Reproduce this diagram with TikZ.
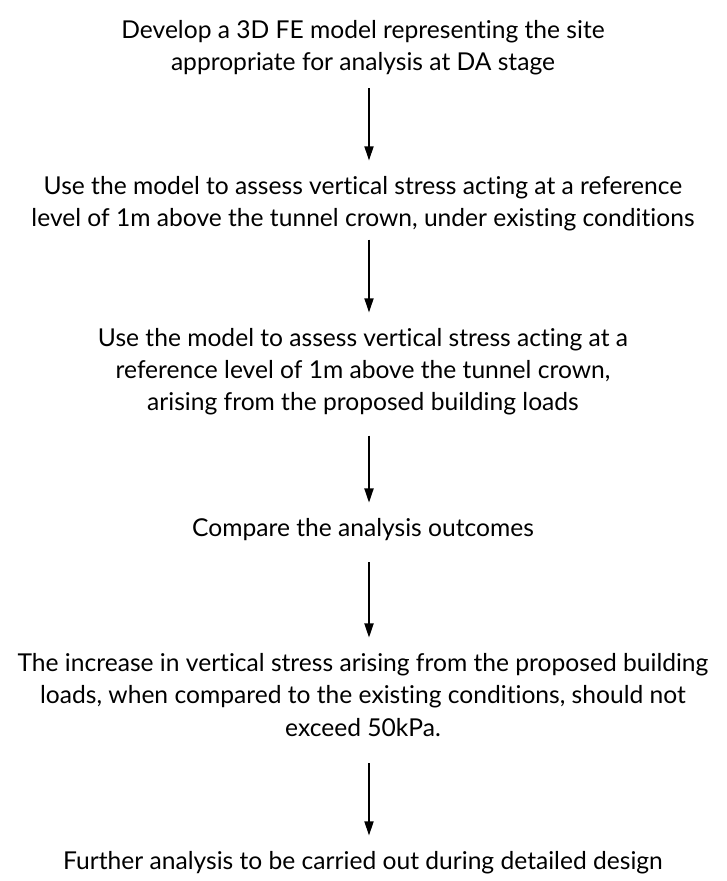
\documentclass[tikz,border=0pt]{standalone}
\usepackage{fontspec}
\setmainfont[Ligatures=NoCommon]{Lato}
\usepackage{tikz}
\usetikzlibrary{arrows.meta, positioning}
\tikzstyle{stage}  = [rectangle, align=center, inner sep=0pt,
                      font=\fontsize{17.5}{22.8}\selectfont]
\tikzstyle{arrow}  = [-{Triangle[length=10pt, width=6.5pt]}, line width=1pt,
                      shorten <=0.32cm, shorten >=0.4cm]

\begin{document}
\begin{tikzpicture}

  \useasboundingbox (0,0) rectangle (18.15,-22.025);

  %% Stages
  \node[stage] (model) at (9.075,-1.2)
        {Develop a 3D FE model representing the site\\
         appropriate for analysis at DA stage};
  \node[stage] (exist) at (9.075,-5.1)
        {Use the model to assess vertical stress acting at a reference\\
         level of 1m above the tunnel crown, under existing conditions};
  \node[stage] (prop) at (9.075,-9.3)
        {Use the model to assess vertical stress acting at a\\
         reference level of 1m above the tunnel crown,\\
         arising from the proposed building loads};
  \node[stage] (comp) at (9.075,-13.25)
        {Compare the analysis outcomes};
  \node[stage] (limit) at (9.075,-17.375)
        {The increase in vertical stress arising from the proposed building\\
         loads, when compared to the existing conditions, should not\\
         exceed 50kPa.};
  \node[stage] (further) at (9.075,-21.575)
        {Further analysis to be carried out during detailed design};

  %% Arrows
  \draw[arrow] ([xshift=0.15cm]model.south) -- ([xshift=0.15cm]exist.north);
  \draw[arrow, shorten <=0.2cm] ([xshift=0.15cm]exist.south) -- ([xshift=0.15cm]prop.north);
  \draw[arrow, shorten <=0.5cm] ([xshift=0.15cm]prop.south) -- ([xshift=0.15cm]comp.north);
  \draw[arrow, shorten <=0.52cm] ([xshift=0.15cm]comp.south) -- ([xshift=0.15cm]limit.north);
  \draw[arrow, shorten <=0.67cm] ([xshift=0.15cm]limit.south) -- ([xshift=0.15cm]further.north);

\end{tikzpicture}
\end{document}
